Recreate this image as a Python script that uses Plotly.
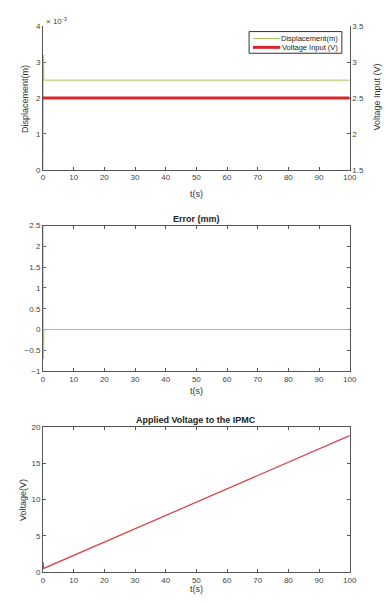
import plotly.graph_objects as go

# --- data -------------------------------------------------------------
# time samples (s) for the tracking response
t_resp = [0, 0.1, 0.2, 0.3, 100]
displacement_m = [0, 3.2e-3, 2.45e-3, 2.5e-3, 2.5e-3]
error_mm = [2.5, -0.7, 0.05, 0, 0]

t_input = [0, 100]
voltage_input_v = [2.5, 2.5]

t_applied = [0, 0.2, 100]
applied_voltage_v = [1.4, 0.5, 18.8]

x_ticks = [0, 10, 20, 30, 40, 50, 60, 70, 80, 90, 100]
disp_ticks = [0, 1e-3, 2e-3, 3e-3, 4e-3]
disp_tick_text = ["0", "1", "2", "3", "4"]
vin_ticks = [1.5, 2, 2.5, 3, 3.5]
err_ticks = [-1, -0.5, 0, 0.5, 1, 1.5, 2, 2.5]
app_ticks = [0, 5, 10, 15, 20]

legend_names = ["Displacement(m)", "Voltage Input (V)"]

# --- style --------------------------------------------------------------
W, H = 385, 602
FONT = "Liberation Sans"
GREEN = "#a6c65e"
RED = "#d7272d"
RED_THIN = "#d9474d"
AX = "#555555"
TXT = "#444444"


def px_x(p):
    return p / W


def px_y(p):
    return 1 - p / H


x_dom = [px_x(42), px_x(356)]

fig = go.Figure()

# panel 1: displacement (left) and voltage input (right)
fig.add_trace(go.Scatter(x=t_resp, y=displacement_m, mode="lines",
                         line=dict(color=GREEN, width=1),
                         name=legend_names[0], xaxis="x", yaxis="y"))
fig.add_trace(go.Scatter(x=t_input, y=voltage_input_v, mode="lines",
                         line=dict(color=RED, width=3),
                         name=legend_names[1], xaxis="x", yaxis="y2"))

# panel 2: tracking error
fig.add_trace(go.Scatter(x=t_resp, y=error_mm, mode="lines",
                         line=dict(color=GREEN, width=1),
                         xaxis="x2", yaxis="y3"))

# panel 3: applied voltage
fig.add_trace(go.Scatter(x=t_applied, y=applied_voltage_v, mode="lines",
                         line=dict(color=RED_THIN, width=1.3),
                         xaxis="x3", yaxis="y4"))

tick_font = dict(family=FONT, size=8, color=TXT)


def xaxis(anchor, mirror):
    return dict(domain=x_dom, anchor=anchor, range=[0, 100],
                tickvals=x_ticks, ticks="inside", ticklen=3,
                tickcolor=AX, showline=True, linecolor=AX, linewidth=1,
                mirror=mirror, showgrid=False, zeroline=False,
                layer="below traces", tickfont=tick_font)


def yaxis(dom, rng, ticks, mirror, **kw):
    d = dict(domain=dom, range=rng, tickvals=ticks, ticks="inside",
             ticklen=3, tickcolor=AX, showline=True, linecolor=AX,
             linewidth=1, mirror=mirror, showgrid=False, zeroline=False,
             layer="below traces", tickfont=tick_font)
    d.update(kw)
    return d


dom1 = [px_y(168.3), px_y(22.7)]
dom2 = [px_y(372.7), px_y(225)]
dom3 = [px_y(576.7), px_y(429.3)]

fig.update_layout(
    width=W, height=H,
    margin=dict(l=0, r=0, t=0, b=0),
    paper_bgcolor="white", plot_bgcolor="white",
    font=dict(family=FONT, size=8, color=TXT),
    showlegend=False,
    xaxis=xaxis("y", False),
    yaxis=yaxis(dom1, [0, 4e-3], disp_ticks, False, anchor="x",
                ticktext=disp_tick_text),
    yaxis2=yaxis(dom1, [1.5, 3.5], vin_ticks, False, anchor="x",
                 overlaying="y", side="right"),
    xaxis2=xaxis("y3", "ticks"),
    yaxis3=yaxis(dom2, [-1, 2.5], err_ticks, "ticks", anchor="x2"),
    xaxis3=xaxis("y4", "ticks"),
    yaxis4=yaxis(dom3, [0, 20], app_ticks, "ticks", anchor="x3"),
)

# compact legend box for panel 1
leg_shapes = [
    dict(type="rect", x0=px_x(253), x1=px_x(348), y0=px_y(50), y1=px_y(28),
         line=dict(color="#333333", width=1), fillcolor="white"),
    dict(type="line", x0=px_x(257), x1=px_x(285), y0=px_y(35), y1=px_y(35),
         line=dict(color=GREEN, width=1)),
    dict(type="line", x0=px_x(257), x1=px_x(285), y0=px_y(44), y1=px_y(44),
         line=dict(color=RED, width=3)),
]
for s in leg_shapes:
    s.update(xref="paper", yref="paper", layer="above")
fig.update_layout(shapes=leg_shapes)

cx = (x_dom[0] + x_dom[1]) / 2
ann = [
    dict(text=legend_names[0], x=px_x(346), y=px_y(35), xanchor="right",
         font=dict(size=7.5, color="#222222")),
    dict(text=legend_names[1], x=px_x(346), y=px_y(44), xanchor="right",
         font=dict(size=7.5, color="#222222")),
    dict(text="× 10<sup>-3</sup>", x=px_x(43), y=px_y(17), xanchor="left",
         font=dict(size=8, color=TXT)),
    dict(text="Displacement(m)", x=px_x(23), y=px_y(96), textangle=-90,
         font=dict(size=9, color="#333333")),
    dict(text="Voltage Input (V)", x=px_x(384), y=px_y(95), textangle=-90,
         font=dict(size=9, color="#333333")),
    dict(text="t(s)", x=cx, y=px_y(193), font=dict(size=9, color="#333333")),
    dict(text="<b>Error (mm)</b>", x=cx, y=px_y(218),
         font=dict(size=9, color="#222222")),
    dict(text="t(s)", x=cx, y=px_y(393), font=dict(size=9, color="#333333")),
    dict(text="<b>Applied Voltage to the IPMC</b>", x=cx, y=px_y(422),
         font=dict(size=9, color="#222222")),
    dict(text="Voltage(V)", x=px_x(22), y=px_y(503), textangle=-90,
         font=dict(size=9, color="#333333")),
    dict(text="t(s)", x=cx, y=px_y(594), font=dict(size=9, color="#333333")),
]
for a in ann:
    a.update(xref="paper", yref="paper", showarrow=False)
    a.setdefault("xanchor", "center")
    a.setdefault("yanchor", "middle")
fig.update_layout(annotations=ann)

fig.write_html("out.html")
